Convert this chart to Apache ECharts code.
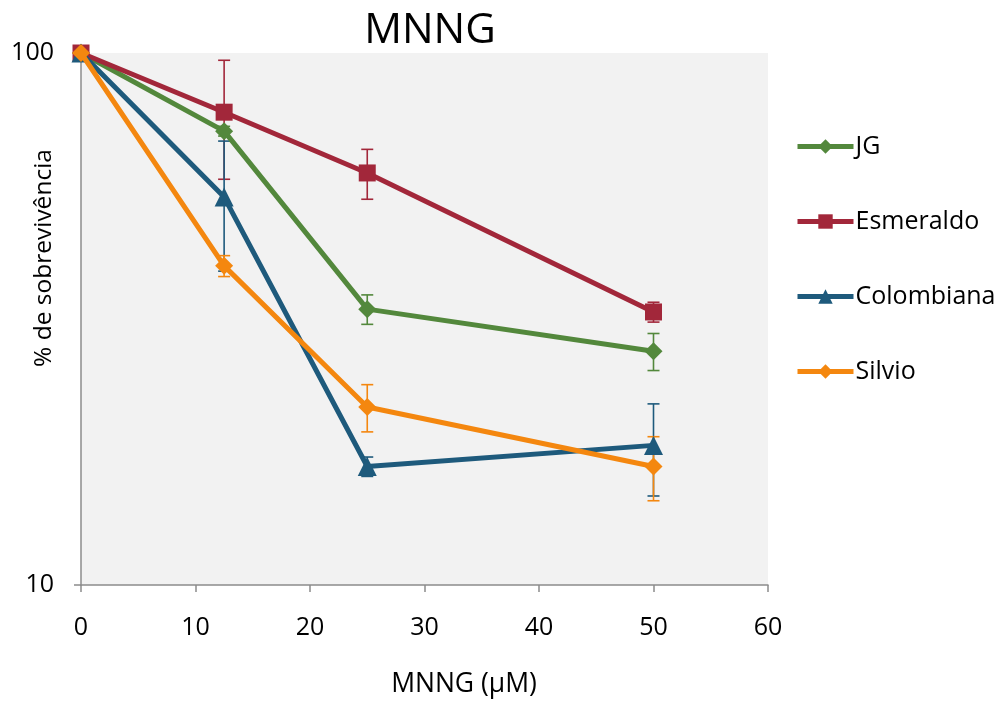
<!DOCTYPE html>
<html>
<head>
<meta charset="utf-8">
<script src="https://cdn.jsdelivr.net/npm/echarts@6/dist/echarts.min.js"></script>
<style>html,body{margin:0;padding:0;background:#fff}#c{width:1004px;height:702px}</style>
</head>
<body>
<div id="c"></div>
<script>
const doses = [0, 12.5, 25, 50];
const seriesNames = ['JG', 'Esmeraldo', 'Colombiana', 'Silvio'];
const jg = [100, 71.3, 33.0, 27.5];
const jgErr = [0, 1.5, 2.1, 2.2];
const esmeraldo = [100, 77.4, 59.5, 32.6];
const esmeraldoErr = [0, 19.5, 6.4, 1.4];
const colombiana = [100, 53.6, 16.7, 18.3];
const colombianaErr = [0, 14.7, 0.7, 3.6];
const silvio = [100, 39.8, 21.6, 16.7];
const silvioErr = [0, 1.8, 2.2, 2.3];
const xTicks = [0, 10, 20, 30, 40, 50, 60];
const yTicks = [10, 100];

const colors = ['#53883C', '#A2273A', '#1E5A7C', '#F4870F'];
const symbols = ['diamond', 'rect', 'triangle', 'diamond'];
const symbolSizes = [18, 17, 19, 18];
const values = [jg, esmeraldo, colombiana, silvio];
const errs = [jgErr, esmeraldoErr, colombianaErr, silvioErr];
const FONT = 'Open Sans';

const chart = echarts.init(document.getElementById('c'));

const series = [];
values.forEach((vals, i) => {
  const errData = [];
  doses.forEach((d, k) => {
    if (errs[i][k] > 0) errData.push([d, vals[k] - errs[i][k], vals[k] + errs[i][k]]);
  });
  series.push({
    type: 'custom',
    name: seriesNames[i] + '_err',
    z: 1,
    silent: true,
    encode: { x: 0, y: [1, 2] },
    data: errData,
    renderItem: function (params, api) {
      const lo = api.coord([api.value(0), api.value(1)]);
      const hi = api.coord([api.value(0), api.value(2)]);
      const w = 6;
      const st = { stroke: colors[i], lineWidth: 1.6 };
      return {
        type: 'group',
        children: [
          { type: 'line', shape: { x1: lo[0], y1: lo[1], x2: hi[0], y2: hi[1] }, style: st },
          { type: 'line', shape: { x1: lo[0] - w, y1: lo[1], x2: lo[0] + w, y2: lo[1] }, style: st },
          { type: 'line', shape: { x1: hi[0] - w, y1: hi[1], x2: hi[0] + w, y2: hi[1] }, style: st }
        ]
      };
    }
  });
});
values.forEach((vals, i) => {
  series.push({
    type: 'line',
    name: seriesNames[i],
    z: 2 + i,
    clip: false,
    data: doses.map((d, k) => [d, vals[k]]),
    symbol: symbols[i],
    symbolSize: symbolSizes[i],
    showAllSymbol: true,
    lineStyle: { color: colors[i], width: 5 },
    itemStyle: { color: colors[i], borderWidth: 0 },
    emphasis: { disabled: true }
  });
});

chart.setOption({
  animation: false,
  textStyle: { fontFamily: FONT },
  grid: { left: 81, top: 53, right: 236, bottom: 117, show: true, backgroundColor: '#F2F2F2', borderWidth: 0 },
  xAxis: {
    type: 'value', min: 0, max: 60, interval: 10,
    axisLine: { show: true, lineStyle: { color: '#8C8C8C', width: 1.5 } },
    axisTick: { show: true, length: 7, lineStyle: { color: '#8C8C8C', width: 1.5 } },
    axisLabel: { color: '#000', fontSize: 25, fontFamily: FONT, margin: 30,
      formatter: v => xTicks.includes(v) ? String(v) : '' },
    splitLine: { show: false }
  },
  yAxis: {
    type: 'log', logBase: 10, min: 10, max: 100,
    axisLine: { show: true, lineStyle: { color: '#8C8C8C', width: 1.5 } },
    axisTick: { show: true, length: 7, lineStyle: { color: '#8C8C8C', width: 1.5 } },
    minorTick: { show: false },
    axisLabel: { color: '#000', fontSize: 25, fontFamily: FONT, margin: 27,
      formatter: v => yTicks.includes(Math.round(v)) ? String(Math.round(v)) : '' },
    splitLine: { show: false }
  },
  legend: {
    data: seriesNames,
    orient: 'vertical',
    left: 795, top: 134, padding: 0,
    itemWidth: 56, itemHeight: 18, itemGap: 50,
    lineStyle: { width: 5 },
    textStyle: { fontSize: 25, lineHeight: 22, fontFamily: FONT, color: '#000', padding: [0, 0, 0, -3] }
  },
  graphic: [
    { type: 'text', x: 430, y: 31, style: { text: 'MNNG', font: '42px "Open Sans"', fill: '#000', textAlign: 'center', textVerticalAlign: 'middle' } },
    { type: 'text', x: 464, y: 684, style: { text: 'MNNG (μM)', font: '26.5px "Open Sans"', fill: '#000', textAlign: 'center', textVerticalAlign: 'middle' } },
    { type: 'text', x: 44, y: 258, rotation: Math.PI / 2, style: { text: '% de sobrevivência', font: '24.5px "Open Sans"', fill: '#000', textAlign: 'center', textVerticalAlign: 'middle' } }
  ],
  series: series
});
</script>
</body>
</html>
